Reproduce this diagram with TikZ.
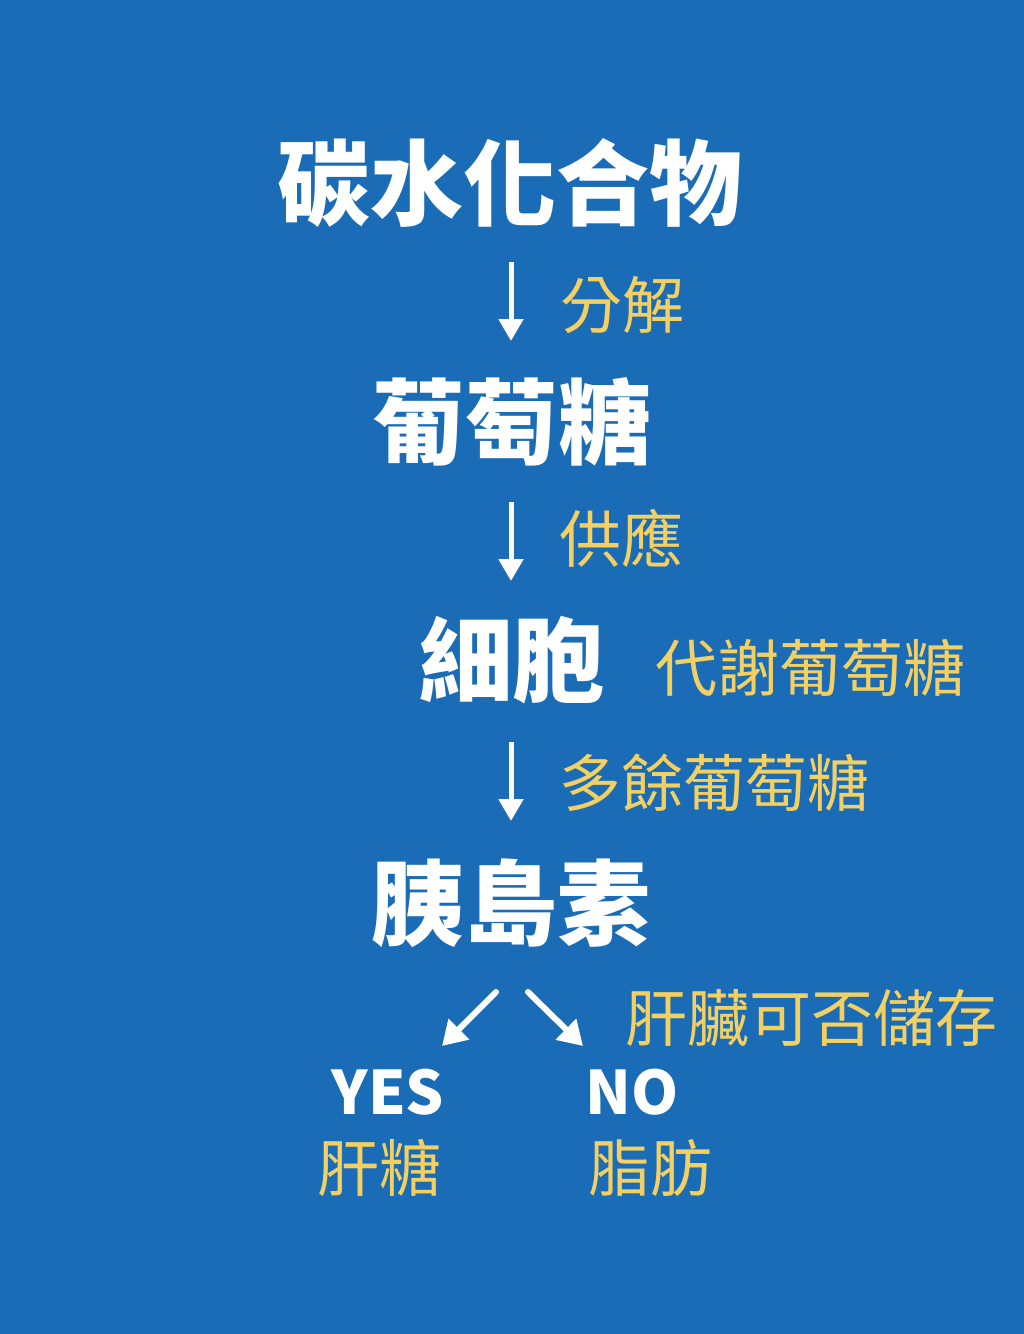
\documentclass[tikz,border=0pt]{standalone}
\usepackage{fontspec}
\setmainfont{Noto Sans CJK TC}
\usetikzlibrary{arrows.meta}
\definecolor{bg}{HTML}{1A6CB7}
\definecolor{gold}{HTML}{F4D062}
\tikzset{
  title/.style={text=white,font=\fontsize{93}{100}\selectfont\bfseries,inner sep=0pt},
  lab/.style={text=gold,font=\fontsize{62}{68}\selectfont,inner sep=0pt},
  ans/.style={text=white,font=\fontsize{60}{66}\selectfont\bfseries,inner sep=0pt},
  arr/.style={draw=white,line width=5pt,-{Triangle[width=24pt,length=22pt]}},
  darr/.style={draw=white,line width=6pt,line cap=round,-{Triangle[width=28pt,length=24pt]}}
}
\begin{document}
\begin{tikzpicture}[x=1pt,y=-1pt]
\fill[bg] (0,0) rectangle (1024,1334);
\useasboundingbox (0,0) rectangle (1024,1334);
\node[title] (t1) at (510,183) {碳水化合物};
\node[title] (t2) at (512,422) {葡萄糖};
\node[title] (t3) at (512,660) {細胞};
\node[title] (t4) at (511,903) {胰島素};
\coordinate (a1s) at (511,262); \coordinate (a1e) at (511,341);
\coordinate (a2s) at (511,502); \coordinate (a2e) at (511,581);
\coordinate (a3s) at (511,742); \coordinate (a3e) at (511,821);
\draw[arr] (a1s) -- (a1e);
\draw[arr] (a2s) -- (a2e);
\draw[arr] (a3s) -- (a3e);
\node[lab] (l1) at (622,305) {分解};
\node[lab] (l2) at (621,538) {供應};
\node[lab] (l3) at (810,668) {代謝葡萄糖};
\node[lab] (l4) at (714,783) {多餘葡萄糖};
\node[lab] (l5) at (811,1018) {肝臟可否儲存};
\coordinate (d1s) at (496,992); \coordinate (d1e) at (442,1046);
\coordinate (d2s) at (528,992); \coordinate (d2e) at (583,1046);
\draw[darr] (d1s) -- (d1e);
\draw[darr] (d2s) -- (d2e);
\node[ans] (yes) at (388,1092) {YES};
\node[ans] (no) at (632,1092) {NO};
\node[lab] (y2) at (379,1168) {肝糖};
\node[lab] (n2) at (650,1168) {脂肪};
\end{tikzpicture}
\end{document}
